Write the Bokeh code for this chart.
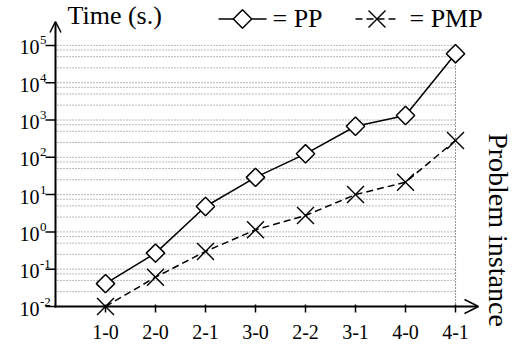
import math
from bokeh.plotting import figure
from bokeh.models import Range1d, Label, Arrow, OpenHead, ColumnDataSource
from bokeh.embed import file_html
from bokeh.resources import INLINE

# ---- data ----
categories = ["1-0", "2-0", "2-1", "3-0", "2-2", "3-1", "4-0", "4-1"]
pp_time = [0.041, 0.27, 4.8, 29, 124, 680, 1320, 60000]
pmp_time = [0.010, 0.061, 0.30, 1.14, 2.75, 10.0, 21.5, 282]
y_exponents = [-2, -1, 0, 1, 2, 3, 4, 5]
grid_mantissas = [2.5, 5.0, 7.5]

FONT = "Liberation Serif"

# ---- layout constants (pixels) ----
W, H = 517, 345
LEFT, BOTTOM_PX = 55, 306          # y-axis x position, x-axis y position
XSTEP = 50.0                        # px per category
DECADE = 37.3                       # px per decade
X_AT_LEFT = -1.0

def dx(px):
    return X_AT_LEFT + (px - LEFT) / XSTEP

def dy(px):
    return 10 ** (-2 + (BOTTOM_PX - px) / DECADE)

def label(x, y, text, size, align="left", angle=0.0, y_offset=0):
    return Label(x=x, y=y, text=text, text_font=FONT, text_font_size=size,
                 text_color="black", text_baseline="middle", text_align=align,
                 angle=angle, y_offset=y_offset)

xs = list(range(len(categories)))

p = figure(width=W, height=H,
           x_range=Range1d(dx(0), dx(W)),
           y_range=Range1d(dy(H), dy(0)),
           y_axis_type="log",
           x_axis_location=None, y_axis_location=None,
           output_backend="svg", toolbar_location=None,
           min_border=0)
p.outline_line_color = None
p.xgrid.grid_line_color = None
p.ygrid.grid_line_color = None
p.background_fill_color = "white"
p.border_fill_color = "white"

# ---- dotted grid ----
gx0, gx1 = dx(57), xs[-1]
grid_vals = [10.0 ** k for k in y_exponents[1:]]
grid_vals += [m * 10.0 ** k for k in y_exponents[:-1] for m in grid_mantissas]
p.multi_line(xs=[[gx0, gx1] for _ in grid_vals], ys=[[v, v] for v in grid_vals],
             line_color="#666666", line_width=0.9, line_dash="1 2")
p.line(x=[xs[-1], xs[-1]], y=[10.0 ** y_exponents[0], 10.0 ** y_exponents[-1]],
       line_color="#333333", line_width=1.1, line_dash="1 2")

# ---- axis lines with arrows ----
p.add_layout(Arrow(x_start=dx(LEFT), y_start=dy(BOTTOM_PX + 1), x_end=dx(LEFT), y_end=dy(21),
                   line_width=2, line_color="black",
                   end=OpenHead(size=11, line_width=1.5, line_color="black")))
p.add_layout(Arrow(x_start=dx(LEFT - 1), y_start=dy(BOTTOM_PX), x_end=dx(478), y_end=dy(BOTTOM_PX),
                   line_width=2, line_color="black",
                   end=OpenHead(size=14, line_width=1.5, line_color="black")))

# ---- ticks ----
p.segment(x0=xs, x1=xs, y0=[dy(BOTTOM_PX - 2)] * len(xs), y1=[dy(BOTTOM_PX + 6)] * len(xs),
          line_color="black", line_width=1.5)
yt = [10.0 ** k for k in y_exponents]
p.segment(x0=[dx(LEFT - 10)] * len(yt), x1=[dx(LEFT)] * len(yt), y0=yt, y1=yt,
          line_color="black", line_width=1.5)

# x tick labels
for i, c in zip(xs, categories):
    p.add_layout(label(i, dy(331), c, "20px", align="center"))

# ---- series ----
src = ColumnDataSource(dict(x=xs, pp=pp_time, pmp=pmp_time))
p.line("x", "pmp", source=src, line_color="black", line_width=1.5, line_dash="7 4")
p.scatter("x", "pmp", source=src, marker="x", size=24, line_color="black", line_width=1.4)
p.line("x", "pp", source=src, line_color="black", line_width=1.5)
p.scatter("x", "pp", source=src, marker="square", angle=math.pi / 4, size=13,
          line_color="black", fill_color="white", line_width=1.5)

# ---- legend (hand drawn) ----
ly = dy(18.5)
p.line(x=[dx(218), dx(266)], y=[ly, ly], line_color="black", line_width=1.5)
p.scatter(x=[dx(242)], y=[ly], marker="square", angle=math.pi / 4, size=13,
          line_color="black", fill_color="white", line_width=1.5)
p.line(x=[dx(355), dx(397)], y=[ly, ly], line_color="black", line_width=1.5, line_dash="7 4")
p.scatter(x=[dx(376.5)], y=[ly], marker="x", size=24, line_color="black", line_width=1.4)
p.add_layout(label(dx(272), dy(17.5), "= PP", "26px"))
p.add_layout(label(dx(409), dy(17.5), "= PMP", "26px"))

# ---- titles ----
p.add_layout(label(dx(67), dy(15), "Time (s.)", "26px"))
p.add_layout(label(dx(497.5), dy(229.5), "Problem instance", "28px",
                   align="center", angle=-math.pi / 2))

# ---- y tick labels 10^k ----
for k in y_exponents:
    p.add_layout(label(dx(39), 10.0 ** k, "10", "20px", align="right", y_offset=-2))
    p.add_layout(label(dx(39.5), 10.0 ** k, str(k), "13px", align="left", y_offset=5))

open("out.html", "w").write(file_html(p, INLINE))
